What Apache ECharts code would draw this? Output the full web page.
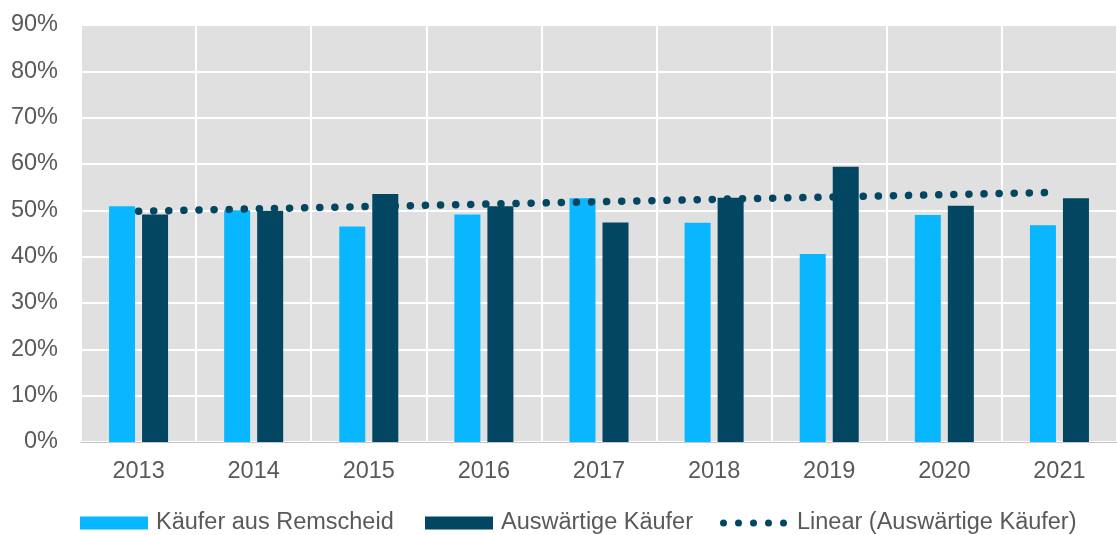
<!DOCTYPE html>
<html>
<head>
<meta charset="utf-8">
<script src="https://cdn.jsdelivr.net/npm/echarts@6/dist/echarts.min.js"></script>
<style>
	html, body { margin: 0; padding: 0; background: #fff; }
	#chart { width: 1117px; height: 535px; }
</style>
</head>
<body>
<div id="chart"></div>
<script>
// Jahre
var years = ['2013', '2014', '2015', '2016', '2017', '2018', '2019', '2020', '2021'];
// Anteile in %
var kaeuferRemscheid = [50.9, 50.0, 46.5, 49.1, 52.6, 47.3, 40.6, 49.0, 46.8];
var auswaertigeKaeufer = [49.1, 49.9, 53.5, 50.9, 47.4, 52.7, 59.4, 51.0, 52.6];
// Trendlinie: Anfangs- und Endpunkt
var linearTrend = [49.8, null, null, null, null, null, null, null, 53.9];
var yTicks = { min: 0, max: 90, step: 10 };

var textColor = '#595959';
var font = 'Arial, "Liberation Sans", sans-serif';
var fs = 23.5;
var dunkel = '#024662';

// 5 Punkte fuer das Legendensymbol der Trendlinie
var dotsIcon = 'path://';
for (var i = 0; i < 5; i++) {
	var cx = 3.5 + i * 15;
	dotsIcon += 'M' + (cx - 3.5) + ',3.5a3.5,3.5 0 1,0 7,0a3.5,3.5 0 1,0 -7,0';
}

var legendText = { color: textColor, fontSize: fs, fontFamily: font, padding: [0, 0, 0, 3] };

var chart = echarts.init(document.getElementById('chart'));
chart.setOption({
	animation: false,
	grid: {
		left: 81, right: 0, top: 25, bottom: 93,
		show: true, backgroundColor: '#e0e0e0', borderWidth: 0
	},
	legend: [
		{
			left: 80, top: 511, padding: 0,
			itemWidth: 68, itemHeight: 13,
			icon: 'rect',
			textStyle: legendText,
			data: ['Käufer aus Remscheid']
		},
		{
			left: 425, top: 511, padding: 0,
			itemWidth: 68, itemHeight: 13,
			icon: 'rect',
			textStyle: legendText,
			data: ['Auswärtige Käufer']
		},
		{
			left: 720, top: 511, padding: 0,
			itemWidth: 67, itemHeight: 7,
			textStyle: { color: textColor, fontSize: fs, fontFamily: font, padding: [0, 0, 0, 5] },
			data: [{ name: 'Linear (Auswärtige Käufer)', icon: dotsIcon }]
		}
	],
	xAxis: {
		type: 'category',
		data: years,
		axisTick: { show: false },
		axisLine: { show: true, lineStyle: { color: '#c4c4c4', width: 1 } },
		axisLabel: { color: textColor, fontSize: fs, fontFamily: font, margin: 18 },
		splitLine: { show: true, lineStyle: { color: '#ffffff', width: 2 } }
	},
	yAxis: {
		type: 'value',
		min: yTicks.min, max: yTicks.max, interval: yTicks.step,
		axisLine: { show: false },
		axisTick: { show: false },
		axisLabel: { color: textColor, fontSize: fs, fontFamily: font, margin: 23, formatter: '{value}%' },
		splitLine: { show: true, lineStyle: { color: '#ffffff', width: 2 } }
	},
	series: [
		{
			name: 'Käufer aus Remscheid',
			type: 'bar',
			data: kaeuferRemscheid,
			barWidth: 26,
			barGap: '27%',
			itemStyle: { color: '#08b7ff' }
		},
		{
			name: 'Auswärtige Käufer',
			type: 'bar',
			data: auswaertigeKaeufer,
			barWidth: 26,
			itemStyle: { color: dunkel }
		},
		{
			name: 'Linear (Auswärtige Käufer)',
			type: 'line',
			data: linearTrend,
			connectNulls: true,
			symbol: 'none',
			z: 5,
			itemStyle: { color: dunkel },
			lineStyle: { color: dunkel, width: 7.5, type: [0.1, 15], cap: 'round' }
		}
	]
});
</script>
</body>
</html>
